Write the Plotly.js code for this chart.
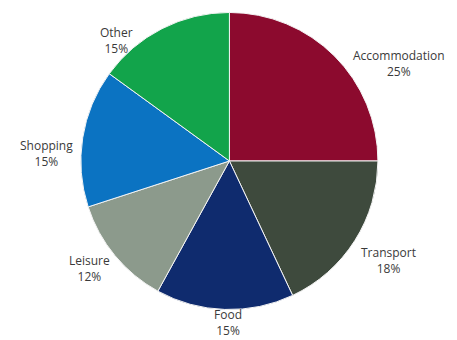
<!DOCTYPE html>
<html><head><meta charset="utf-8">
<script src="https://cdn.plot.ly/plotly-3.0.1.min.js"></script>
<style>html,body{margin:0;padding:0;background:#fff}</style>
</head><body><div id="chart" style="width:457px;height:340px"></div>
<script>
const categories = ["Accommodation", "Transport", "Food", "Leisure", "Shopping", "Other"];
const shares = [25, 18, 15, 12, 15, 15];
const colors = ["#8c0a2e", "#3e4a3d", "#0f2b6e", "#8c9a8c", "#0b73c2", "#12a44b"];

const W = 457, H = 340;
const dom = {x: [0.177, 0.827], y: [0.088, 0.965]};

const trace = {
  type: "pie",
  labels: categories,
  values: shares,
  sort: false,
  direction: "clockwise",
  rotation: 0,
  marker: {colors: colors, line: {color: "#f4f4f4", width: 1}},
  textinfo: "none",
  hoverinfo: "label+percent",
  domain: dom,
  showlegend: false
};

// label placement: computed from each slice's mid-angle, with small nudges (px)
const nudge = {
  Accommodation: [8, 16], Transport: [-6, 14], Food: [4, 1],
  Leisure: [6, 5], Shopping: [4, 18], Other: [-22, 22]
};
const cx = (dom.x[0] + dom.x[1]) / 2 * W;
const cy = (1 - (dom.y[0] + dom.y[1]) / 2) * H;
const R = Math.min((dom.x[1] - dom.x[0]) * W, (dom.y[1] - dom.y[0]) * H) / 2;
const total = shares.reduce((a, b) => a + b, 0);
let cum = 0;
const annotations = categories.map((c, i) => {
  const mid = (cum + shares[i] / 2) / total;
  cum += shares[i];
  const th = 2 * Math.PI * mid;
  const s = Math.sin(th), co = Math.cos(th);
  const px = cx + 1.08 * R * s + nudge[c][0];
  const py = cy - 1.08 * R * co + nudge[c][1];
  const xa = s > 0.3 ? "left" : (s < -0.3 ? "right" : "center");
  return {
    xref: "paper", yref: "paper", x: px / W, y: 1 - py / H,
    xanchor: xa, yanchor: "middle", align: "center",
    text: c + "<br>" + shares[i] + "%", showarrow: false,
    font: {family: "Open Sans, sans-serif", size: 12, color: "#3a3a3a"}
  };
});

const layout = {
  width: W, height: H,
  margin: {l: 0, r: 0, t: 0, b: 0},
  paper_bgcolor: "#ffffff",
  showlegend: false,
  annotations: annotations
};
Plotly.newPlot("chart", [trace], layout, {displayModeBar: false, staticPlot: true});
</script></body></html>
